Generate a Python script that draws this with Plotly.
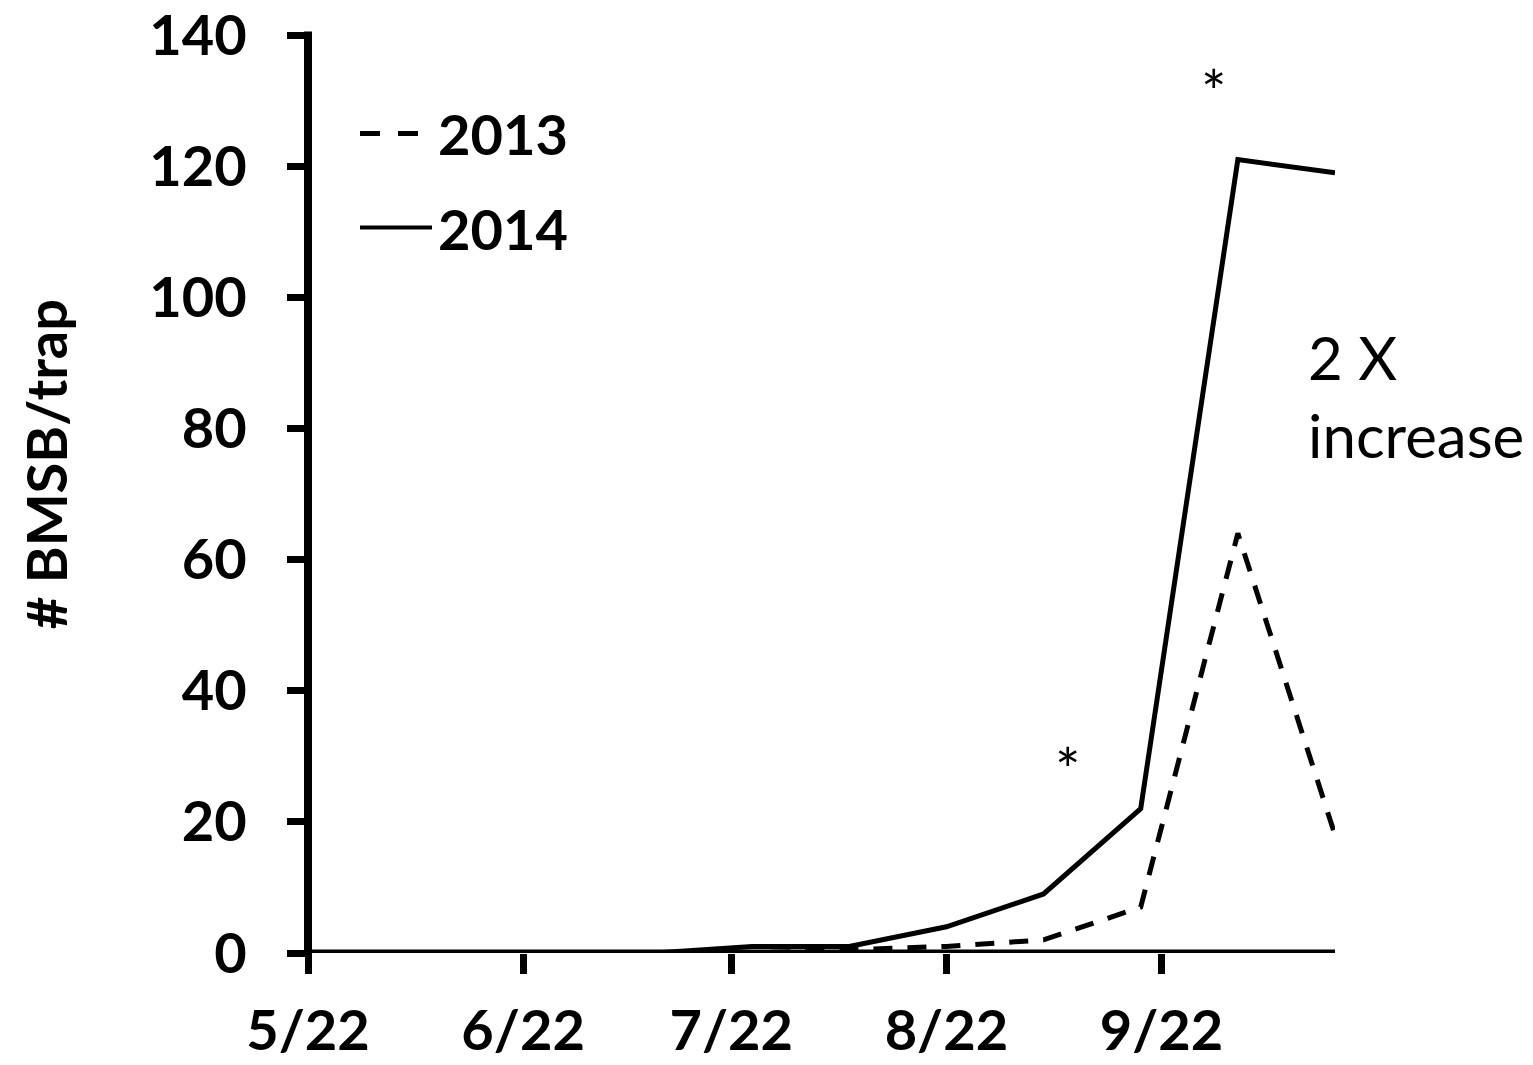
import plotly.graph_objects as go

# Biweekly trap check dates (both seasons plotted on a common calendar)
sample_dates = [
    "2014-05-30", "2014-06-13", "2014-06-27", "2014-07-11", "2014-07-25",
    "2014-08-08", "2014-08-22", "2014-09-05", "2014-09-19", "2014-10-03",
    "2014-10-17",
]
bmsb_2013 = [0, 0, 0, 0, 0, 0.5, 1, 2, 7, 64, 18]
bmsb_2014 = [0, 0, 0, 0, 1, 1, 4, 9, 22, 121, 119]

tick_dates = ["2014-05-22", "2014-06-22", "2014-07-22", "2014-08-22", "2014-09-22"]
tick_labels = ["5/22", "6/22", "7/22", "8/22", "9/22"]
y_ticks = [0, 20, 40, 60, 80, 100, 120, 140]

W, H = 1533, 1065
ML, MR, MT, MB = 308, 198, 34.5, 112
PW, PH = W - ML - MR, H - MT - MB

FONT = "Lato, 'Open Sans', sans-serif"


def px(x):
    return (x - ML) / PW


def py(y):
    return (H - MB - y) / PH


fig = go.Figure()
fig.add_trace(go.Scatter(
    x=sample_dates, y=bmsb_2013, mode="lines", name="2013",
    line=dict(color="black", width=5, dash="19px,15px"),
))
fig.add_trace(go.Scatter(
    x=sample_dates, y=bmsb_2014, mode="lines", name="2014",
    line=dict(color="black", width=5),
))

# Axis lines centred on x = 5/22 and y = 0, drawn over the traces
fig.add_shape(type="line", xref="paper", yref="y", layer="above",
              x0=px(304), x1=1, y0=0, y1=0,
              line=dict(color="black", width=7))
fig.add_shape(type="line", xref="paper", yref="paper", layer="above",
              x0=0, x1=0, y0=py(957), y1=py(31),
              line=dict(color="black", width=8))

# Legend drawn as line samples + bold labels
fig.add_shape(type="line", xref="paper", yref="paper",
              x0=px(360), x1=px(418), y0=py(133), y1=py(133),
              line=dict(color="black", width=5, dash="20px,18px"))
fig.add_shape(type="line", xref="paper", yref="paper",
              x0=px(360), x1=px(432), y0=py(227), y1=py(227),
              line=dict(color="black", width=4))
for label, yy in [("2013", 133), ("2014", 228)]:
    fig.add_annotation(text=f"<b>{label}</b>", xref="paper", yref="paper",
                       x=px(436), y=py(yy), xanchor="left", yanchor="middle",
                       showarrow=False, font=dict(size=56, color="black", family=FONT))

# Axis title
fig.add_annotation(text="<b># BMSB/trap</b>", xref="paper", yref="paper",
                   x=px(45), y=py(464), textangle=-90, showarrow=False,
                   xanchor="center", yanchor="middle",
                   font=dict(size=56, color="black", family=FONT))

# Significance markers and note
for sx, sy in [(1068, 769), (1214, 91)]:
    fig.add_annotation(text="*", xref="paper", yref="paper", x=px(sx), y=py(sy),
                       xanchor="center", yanchor="middle", showarrow=False,
                       font=dict(size=60, color="black", family=FONT))
fig.add_annotation(text="2 X<br>increase", xref="paper", yref="paper",
                   x=px(1306), y=py(396), xanchor="left", yanchor="middle",
                   align="left", showarrow=False,
                   font=dict(size=60, color="black", family=FONT))

fig.update_layout(
    width=W, height=H,
    margin=dict(l=ML, r=MR, t=MT, b=MB, pad=0),
    paper_bgcolor="white", plot_bgcolor="white",
    showlegend=False,
    font=dict(family=FONT, color="black"),
)
fig.update_xaxes(
    type="date", range=["2014-05-22", "2014-10-17"], automargin=False,
    tickmode="array", tickvals=tick_dates, ticktext=[f"<b>{t}</b>" for t in tick_labels],
    showgrid=False, zeroline=False, showline=False,
    ticks="outside", ticklen=20, tickwidth=7, tickcolor="black",
    tickfont=dict(size=56, family=FONT, color="black"),
    ticklabelstandoff=9, ticklabeloverflow="allow",
)
fig.update_yaxes(
    range=[0, 140], automargin=False,
    tickvals=y_ticks, ticktext=[f"<b>{v}</b>" for v in y_ticks],
    showgrid=False, zeroline=False, showline=False,
    ticks="outside", ticklen=20, tickwidth=7, tickcolor="black",
    tickfont=dict(size=56, family=FONT, color="black"),
    ticklabelstandoff=29, ticklabeloverflow="allow",
)

fig.write_html("out.html")
